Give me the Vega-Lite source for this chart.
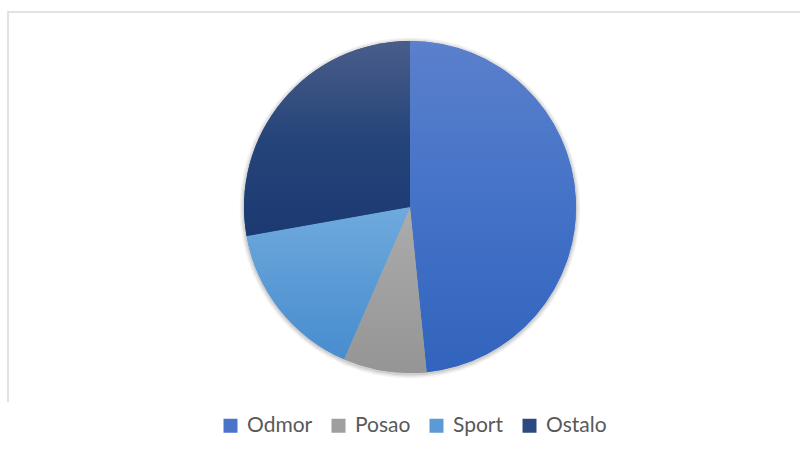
{
  "$schema": "https://vega.github.io/schema/vega-lite/v6.json",
  "width": 804,
  "height": 390,
  "autosize": "none",
  "padding": {"left": 8, "top": 12, "right": 0, "bottom": 54},
  "background": "white",
  "view": {"stroke": "#d9d9d9", "strokeWidth": 1.5, "strokeDash": [1194, 804, 420, 10]},
  "data": {
    "values": [
      {"kategorija": "Odmor", "udio": 48.4, "red": 1},
      {"kategorija": "Posao", "udio": 8.1, "red": 2},
      {"kategorija": "Sport", "udio": 15.7, "red": 3},
      {"kategorija": "Ostalo", "udio": 27.8, "red": 4}
    ]
  },
  "layer": [
    {
      "mark": {"type": "arc", "outerRadius": 170.5, "fill": "#000000", "opacity": 0.013, "yOffset": 1},
      "encoding": {}
    },
    {
      "mark": {"type": "arc", "outerRadius": 169, "fill": "#000000", "opacity": 0.015, "yOffset": 1},
      "encoding": {}
    },
    {
      "mark": {"type": "arc", "outerRadius": 167.5, "fill": "#000000", "opacity": 0.018, "yOffset": 1},
      "encoding": {}
    },
    {
      "mark": {"type": "arc", "outerRadius": 166, "stroke": null},
      "encoding": {
        "theta": {"field": "udio", "type": "quantitative", "stack": true},
        "order": {"field": "red", "type": "quantitative"},
        "color": {
          "field": "kategorija",
          "type": "nominal",
          "sort": ["Odmor", "Posao", "Sport", "Ostalo"],
          "scale": {"domain": ["Odmor", "Posao", "Sport", "Ostalo"], "range": ["#4a74c9", "#9f9f9f", "#5a9ad5", "#2c4a80"]},
          "legend": {
            "title": null,
            "orient": "none",
            "legendX": 212,
            "legendY": 403,
            "direction": "horizontal",
            "symbolType": "square",
            "symbolSize": 196,
            "symbolStrokeWidth": 0,
            "labelFont": "Lato",
            "labelFontSize": 21,
            "labelColor": "#595959",
            "labelOffset": 6,
            "columnPadding": 15,
            "labelLimit": 200
          }
        }
      }
    },
    {
      "mark": {"type": "arc", "outerRadius": 166, "stroke": null},
      "encoding": {
        "theta": {"field": "udio", "type": "quantitative", "stack": true},
        "order": {"field": "red", "type": "quantitative"},
        "fill": {
          "condition": [
            {"test": "datum.kategorija === 'Odmor'", "value": {"gradient": "linear", "x1": 0, "y1": 0, "x2": 0, "y2": 1, "stops": [{"offset": 0, "color": "#5b80cc"}, {"offset": 0.5, "color": "#4372c7"}, {"offset": 1, "color": "#3264bd"}]}},
            {"test": "datum.kategorija === 'Posao'", "value": {"gradient": "linear", "x1": 0, "y1": 0, "x2": 0, "y2": 1, "stops": [{"offset": 0, "color": "#acacac"}, {"offset": 0.5, "color": "#a0a0a0"}, {"offset": 1, "color": "#959595"}]}},
            {"test": "datum.kategorija === 'Sport'", "value": {"gradient": "linear", "x1": 0, "y1": 0, "x2": 0, "y2": 1, "stops": [{"offset": 0, "color": "#6faadd"}, {"offset": 0.5, "color": "#5a9ad5"}, {"offset": 1, "color": "#488dcf"}]}}
          ],
          "value": {"gradient": "linear", "x1": 0, "y1": 0, "x2": 0, "y2": 1, "stops": [{"offset": 0, "color": "#4a5d8a"}, {"offset": 0.5, "color": "#254479"}, {"offset": 1, "color": "#1c3a72"}]}
        }
      }
    }
  ]
}
